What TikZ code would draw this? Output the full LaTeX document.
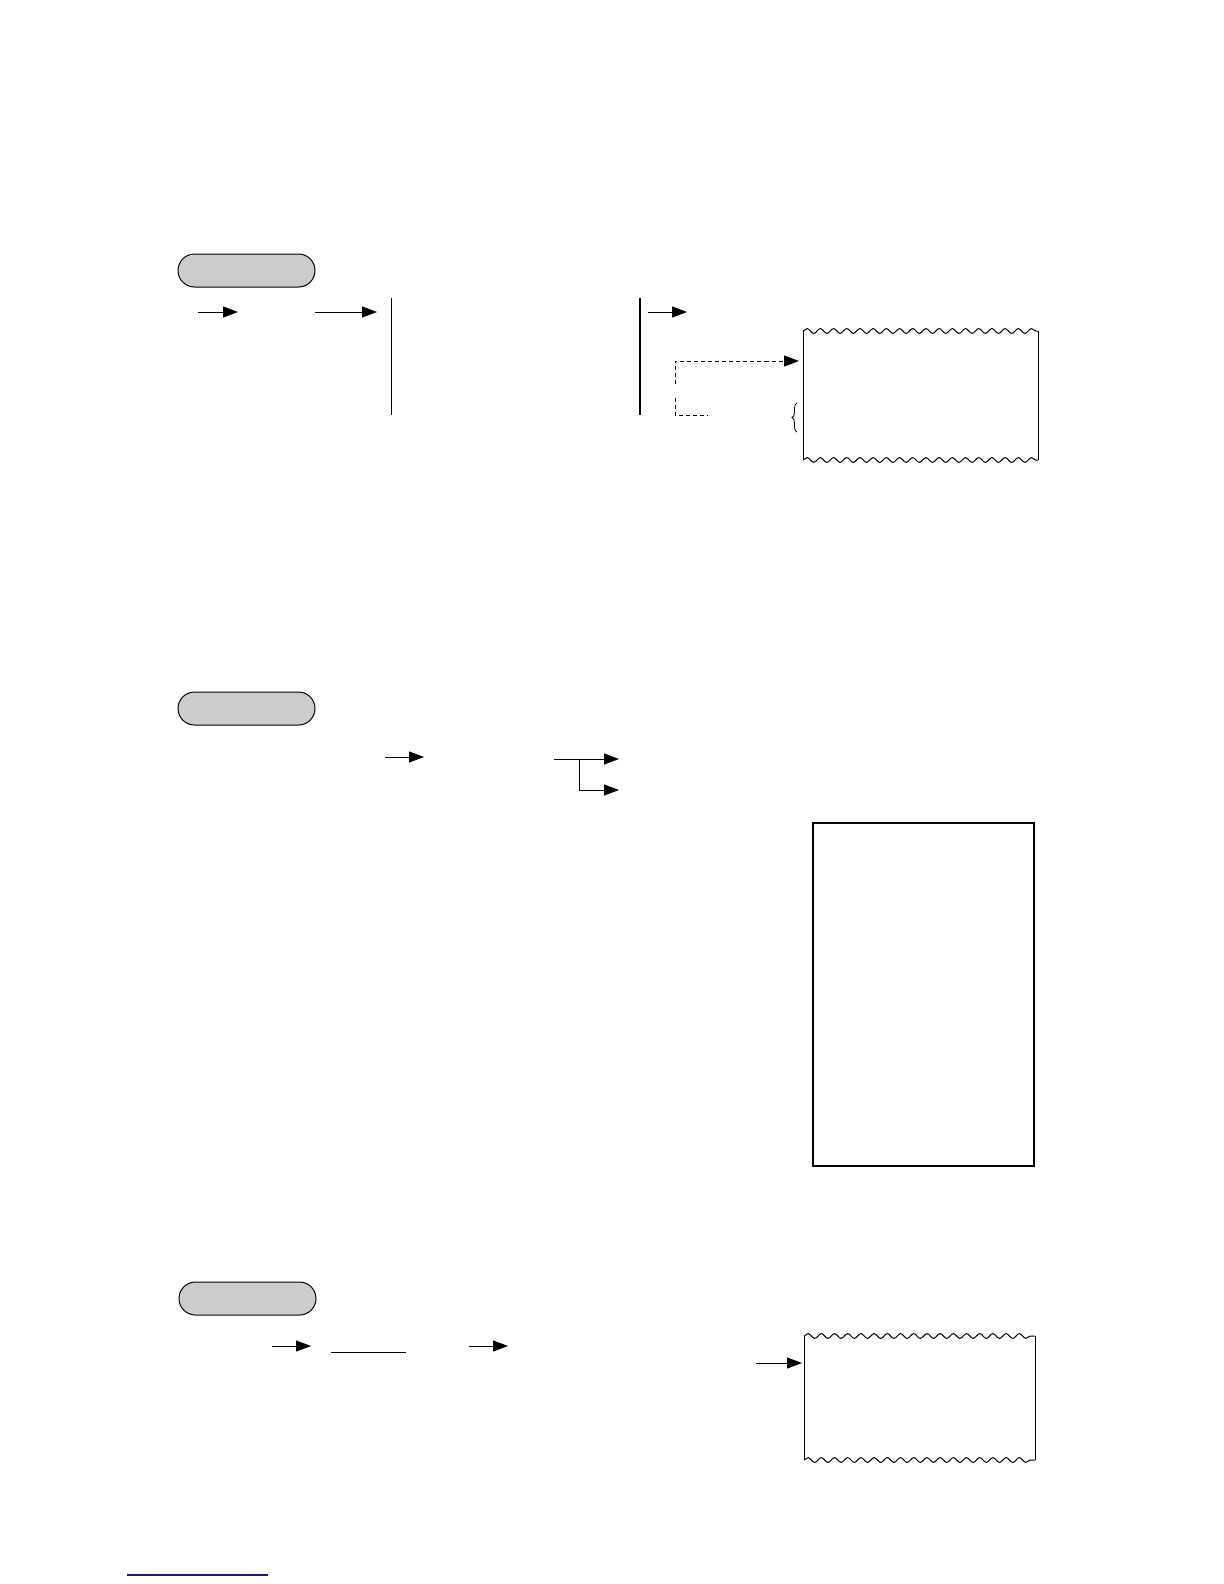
\documentclass[tikz,border=0pt]{standalone}
\usetikzlibrary{arrows.meta,shapes.misc,decorations.pathmorphing,decorations.pathreplacing}
\definecolor{pillgray}{RGB}{204,204,204}
\definecolor{linkblue}{RGB}{20,20,160}
\tikzset{
  pill/.style={draw, fill=pillgray, rounded rectangle, minimum width=68.5pt, minimum height=16.5pt, inner sep=0pt, line width=0.5pt},
  flow/.style={-{Triangle[length=7.5pt,width=5.5pt]}, line width=0.5pt},
  wave/.style={decorate, decoration={snake, segment length=6.6pt, amplitude=1.2pt}, line width=0.5pt},
  dashline/.style={dash pattern=on 2pt off 1.5pt, line width=0.5pt}
}
\begin{document}
\begin{tikzpicture}[x=0.5pt,y=-0.5pt]
\useasboundingbox (0,0) rectangle (1224,1584);

% first block
\node [pill] (pillA) at (246.5,270.5) {};
\coordinate (a1) at (198,312); \coordinate (a2) at (238,312);
\coordinate (b1) at (315,312); \coordinate (b2) at (377,312);
\coordinate (c1) at (648,312); \coordinate (c2) at (687,312);
\draw [flow] (a1) -- (a2);
\draw [flow] (b1) -- (b2);
\draw [flow] (c1) -- (c2);
\draw [line width=0.5pt] (391,298) -- (391,415);
\draw [line width=1pt] (640,298) -- (640,415);
\coordinate (d0) at (675,384);
\coordinate (d1) at (799,361);
\draw [dashline] (d0) |- (765,361);
\draw [flow, dash pattern=on 2pt off 1.5pt] (765,361) -- (d1);
\draw [dashline] (675,398) |- (708,415);
\draw [decorate, decoration={brace, amplitude=2.5pt}, line width=0.4pt] (797,432) -- (797,403);
% paper strip
\draw [wave] (803,331) -- (1038,331);
\draw [wave] (803,460) -- (1038,460);
\draw [line width=0.5pt] (803,331) -- (803,460);
\draw [line width=0.5pt] (1038,331) -- (1038,460);

% second block
\node [pill] (pillB) at (246.5,708.5) {};
\draw [flow] (385,757) -- (424,757);
\coordinate (s0) at (554,759);
\coordinate (s1) at (579,759);
\draw [flow] (s0) -- (619,759);
\draw [flow] (s1) |- (619,790);
\draw [line width=0.8pt] (813,823) rectangle (1034,1166);

% third block
\node [pill] (pillC) at (247.5,1298.5) {};
\draw [flow] (272,1346) -- (311,1346);
\draw [line width=0.5pt] (331,1352) -- (406,1352);
\draw [flow] (469,1346) -- (508,1346);
\draw [flow] (756,1363) -- (802,1363);
\draw [wave] (804,1336) -- (1035,1336);
\draw [wave] (804,1460) -- (1035,1460);
\draw [line width=0.5pt] (804,1336) -- (804,1460);
\draw [line width=0.5pt] (1035,1336) -- (1035,1460);

\draw [linkblue, line width=0.7pt] (127,1575) -- (268,1575);
\end{tikzpicture}
\end{document}
